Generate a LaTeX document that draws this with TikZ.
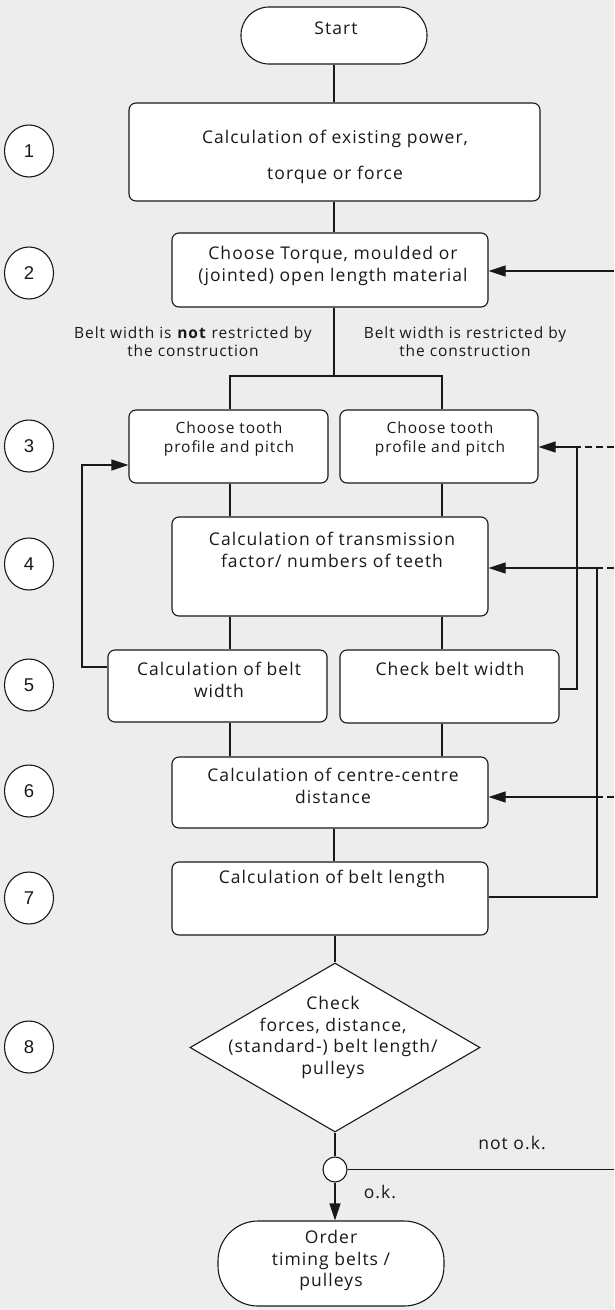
\documentclass[tikz,border=0pt]{standalone}
\usepackage{fontspec}
\setmainfont[LetterSpace=6]{Open Sans}
\newfontfamily\numfont{Liberation Sans}
\usetikzlibrary{arrows.meta,shapes.geometric}
\definecolor{bg}{RGB}{237,237,237}
\definecolor{ink}{RGB}{25,25,25}

\begin{document}
\begin{tikzpicture}[x=1pt,y=-1pt,line width=1.1pt,
  box/.style={draw=ink, fill=white, rounded corners=7pt, inner sep=0pt},
  term/.style={draw=ink, fill=white, inner sep=0pt},
  num/.style={draw=ink, fill=white, ellipse, minimum width=49pt, minimum height=52pt,
    inner sep=0pt, text=ink, font=\numfont\fontsize{18.5}{18.5}\selectfont},
  txt/.style={anchor=north, inner sep=0pt, align=center, text=ink,
    font=\fontsize{17.5}{21.5}\selectfont},
  lbl/.style={txt, font=\fontsize{15.5}{18}\selectfont},
  link/.style={draw=ink},
  arr/.style={draw=ink, -{Triangle[length=17pt,width=11pt]}},
  feed/.style={draw=ink, dash pattern=on 7pt off 4pt},
]
% canvas
\fill[bg] (0,0) rectangle (614,1310);
\useasboundingbox (0,0) rectangle (614,1310);

% columns used by the connectors
\coordinate (colL) at (230,0);
\coordinate (colM) at (334,0);
\coordinate (colR) at (442,0);
\coordinate (edge) at (614,0);
\coordinate (loopL) at (82,0);
\coordinate (loopR) at (577,0);
\coordinate (loopR2) at (597,0);

% process shapes
\node[term, rounded corners=28pt, minimum width=186pt, minimum height=57pt] (start) at (334,35.5) {};
\node[box, minimum width=411pt, minimum height=98pt] (b1) at (334.5,152) {};
\node[box, minimum width=316pt, minimum height=74pt] (b2) at (330,270) {};
\node[box, minimum width=199pt, minimum height=73pt] (b3l) at (228.5,446.5) {};
\node[box, minimum width=198pt, minimum height=73pt] (b3r) at (439,446.5) {};
\node[box, minimum width=316pt, minimum height=99pt] (b4) at (330,566.5) {};
\node[box, minimum width=219pt, minimum height=72pt] (b5l) at (217.5,686) {};
\node[box, minimum width=219pt, minimum height=73pt] (b5r) at (449.5,686.5) {};
\node[box, minimum width=316pt, minimum height=71pt] (b6) at (330,792.5) {};
\node[box, minimum width=316pt, minimum height=73pt] (b7) at (330,898.5) {};
\node[draw=ink, fill=white, diamond, minimum width=290pt, minimum height=169pt, inner sep=0pt] (chk) at (335,1047.5) {};
\node[draw=ink, fill=white, ellipse, minimum width=24pt, minimum height=25pt, inner sep=0pt] (jn) at (335,1169.5) {};
\node[term, rounded corners=40pt, minimum width=226pt, minimum height=85pt] (stop) at (331,1263.5) {};

% step numbers
\node[num] (n1) at (29,151) {1};
\node[num] (n2) at (29,273) {2};
\node[num] (n3) at (29,446) {3};
\node[num] (n4) at (29,564) {4};
\node[num] (n5) at (29,685) {5};
\node[num] (n6) at (29,791) {6};
\node[num] (n7) at (29,898) {7};
\node[num] (n8) at (29,1047) {8};

% main flow
\draw[link] (start.south -| colM) -- (b1.north -| colM);
\draw[link] (b1.south -| colM) -- (b2.north -| colM);
\draw[link] (b2.south -| colM) -- (colM |- 0,376) coordinate (split);
\draw[link] (b3l.north -| colL) |- (split) -| (b3r.north -| colR);
\draw[link] (b3l.south -| colL) -- (b4.north -| colL);
\draw[link] (b3r.south -| colR) -- (b4.north -| colR);
\draw[link] (b4.south -| colL) -- (b5l.north -| colL);
\draw[link] (b4.south -| colR) -- (b5r.north -| colR);
\draw[link] (b5l.south -| colL) -- (b6.north -| colL);
\draw[link] (b5r.south -| colR) -- (b6.north -| colR);
\draw[link] (b6.south -| colM) -- (b7.north -| colM);
\draw[link] (b7.south -| chk.north) -- (chk.north);
\draw[link] (chk.south) -- (jn.north);
\draw[arr] (jn.south) -- (stop.north -| jn.south);
\draw[link] (jn.east) -- (jn.east -| edge);

% feedback loops
\draw[arr] (edge |- 0,271) -- (b2.east |- 0,271);
\draw[arr] (b5l.west |- 0,667) -| (loopL |- 0,465) -- (b3l.west |- 0,465);
\draw[arr] (b5r.east |- 0,689) -| (loopR |- 0,447) -- (b3r.east |- 0,447);
\draw[feed] (edge |- 0,447) -- (loopR |- 0,447);
\draw[arr] (b7.east |- 0,897) -| (loopR2 |- 0,568) -- (b4.east |- 0,568);
\draw[arr] (loopR2 |- 0,797) -- (b6.east |- 0,797);
\draw[feed] (edge |- 0,568) -- (loopR2 |- 0,568);
\draw[feed] (edge |- 0,797) -- (loopR2 |- 0,797);

% texts
\node[txt] (tStart) at (336,21.5) {Start};
\node[txt, font=\fontsize{17.5}{36}\selectfont] (t1) at (335,130) {Calculation of existing power,\\torque or force};
\node[txt] (t2) at (333,246) {Choose Torque, moulded or\\(jointed) open length material};
\node[lbl] (tNo) at (193,326) {Belt width is \textbf{not} restricted by\\the construction};
\node[lbl] (tYes) at (465,326) {Belt width is restricted by\\the construction};
\node[txt, font=\fontsize{15.5}{19}\selectfont] (t3l) at (229,421.5) {Choose tooth\\profile and pitch};
\node[txt, font=\fontsize{15.5}{19}\selectfont] (t3r) at (440,421.5) {Choose tooth\\profile and pitch};
\node[txt] (t4) at (332,532) {Calculation of transmission\\factor/ numbers of teeth};
\node[txt] (t5l) at (219,662) {Calculation of belt\\width};
\node[txt] (t5r) at (450,662) {Check belt width};
\node[txt] (t6) at (333,768) {Calculation of centre-centre\\distance};
\node[txt] (t7) at (332,870) {Calculation of belt length};
\node[txt] (t8) at (333,996) {Check\\forces, distance,\\(standard-) belt length/\\pulleys};
\node[txt] (tNok) at (512,1136) {not o.k.};
\node[txt] (tOk) at (380,1185) {o.k.};
\node[txt] (tEnd) at (331,1230) {Order\\timing belts /\\pulleys};
\end{tikzpicture}
\end{document}
